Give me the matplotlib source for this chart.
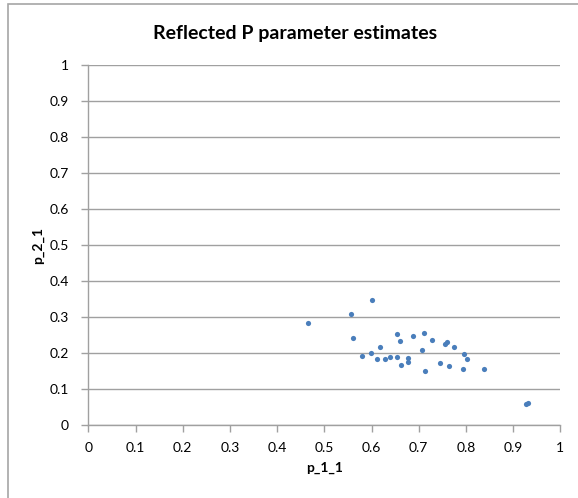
import matplotlib
matplotlib.use("Agg")
import matplotlib.pyplot as plt
from matplotlib.patches import Rectangle

# Estimates of the reflected P parameters
p_1_1 = [0.601, 0.557, 0.561, 0.580, 0.598, 0.611, 0.619, 0.628, 0.640, 0.655,
         0.660, 0.655, 0.662, 0.678, 0.678, 0.688, 0.711, 0.707, 0.714, 0.728,
         0.745, 0.756, 0.761, 0.774, 0.765, 0.797, 0.802, 0.794, 0.839, 0.927,
         0.932, 0.466]
p_2_1 = [0.346, 0.308, 0.241, 0.192, 0.200, 0.183, 0.216, 0.183, 0.189, 0.254,
         0.233, 0.189, 0.167, 0.185, 0.174, 0.248, 0.255, 0.207, 0.151, 0.235,
         0.171, 0.226, 0.231, 0.217, 0.164, 0.198, 0.182, 0.155, 0.156, 0.058,
         0.060, 0.284]

ticks = [0, 0.1, 0.2, 0.3, 0.4, 0.5, 0.6, 0.7, 0.8, 0.9, 1]
tick_labels = ["0", "0.1", "0.2", "0.3", "0.4", "0.5", "0.6", "0.7", "0.8", "0.9", "1"]

plt.rcParams["font.family"] = ["Lato", "DejaVu Sans"]

W, H = 578, 498
fig = plt.figure(figsize=(W / 100, H / 100), dpi=100)

# chart frame (runs off the right and bottom edges)
fig.patches.append(Rectangle((7.5 / W, -0.2), 1.3, 1.2 - 4.5 / H, transform=fig.transFigure,
                             fill=False, edgecolor="#a6a6a6", linewidth=1.2))

ax = fig.add_axes([88.3 / W, 1 - 425 / H, 472 / W, 360 / H])
ax.scatter(p_1_1, p_2_1, s=14, color="#4a7ebb", zorder=3, linewidths=0)

ax.set_xlim(0, 1)
ax.set_ylim(0, 1)
ax.set_xticks(ticks)
ax.set_xticklabels(tick_labels)
ax.set_yticks(ticks)
ax.set_yticklabels(tick_labels)
ax.grid(axis="y", color="#a0a0a0", linewidth=1.0)
ax.set_axisbelow(True)
for s in ("top", "right"):
    ax.spines[s].set_visible(False)
for s in ("left", "bottom"):
    ax.spines[s].set_color("#a0a0a0")
    ax.spines[s].set_linewidth(1.0)
ax.tick_params(axis="both", direction="out", length=5, width=1, color="#a0a0a0",
               labelsize=10, labelcolor="black")
ax.tick_params(axis="x", pad=7)
ax.tick_params(axis="y", pad=9)

ax.set_xlabel("p_1_1", fontsize=10, fontweight="bold", labelpad=6)
ax.set_ylabel("p_2_1", fontsize=10, fontweight="bold", labelpad=4)

fig.text(295 / W, 1 - 33 / H, "Reflected P parameter estimates", ha="center", va="center",
         fontsize=14, fontweight="bold")

fig.savefig("out.png", dpi=100)
